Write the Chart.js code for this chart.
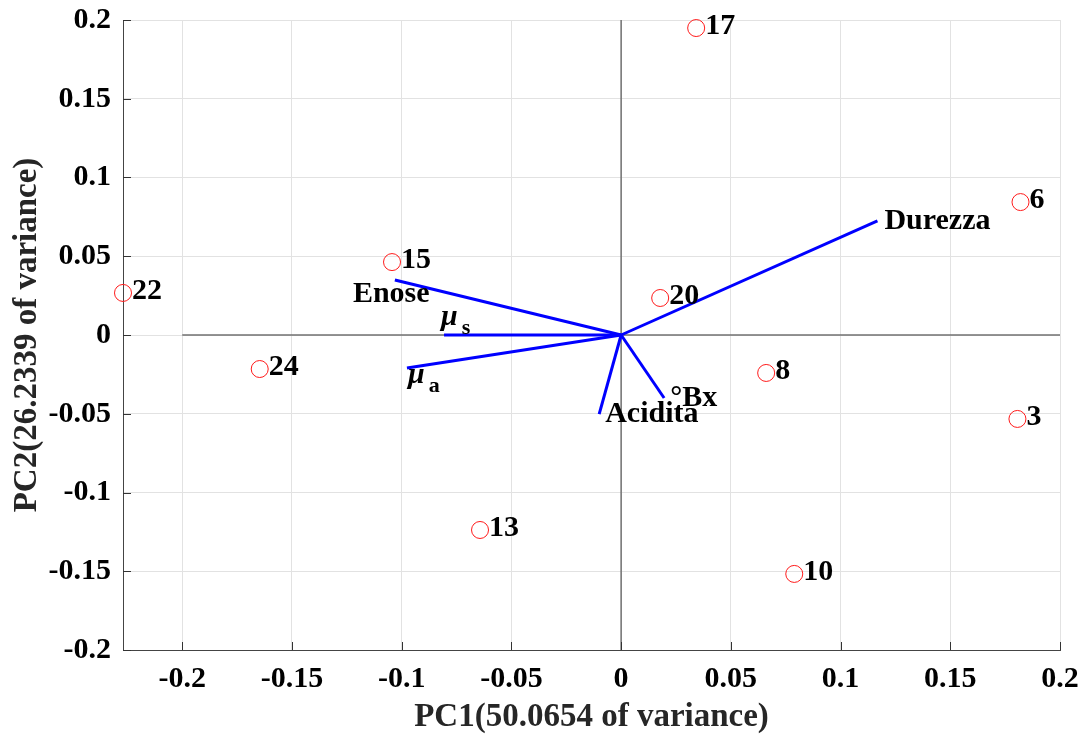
<!DOCTYPE html>
<html>
<head>
<meta charset="utf-8">
<script src="https://cdn.jsdelivr.net/npm/chart.js@4.4.1/dist/chart.umd.min.js"></script>
<style>
  html, body { margin: 0; padding: 0; background: #fff; }
  #wrap { width: 1082px; height: 734px; }
</style>
</head>
<body>
<div id="wrap"><canvas id="c"></canvas></div>
<script>
// observations (scores)
var obsLabels = ['17', '6', '15', '22', '20', '24', '8', '3', '13', '10'];
var obsPC1 = [0.0342, 0.182, -0.1044, -0.227, 0.0178, -0.1647, 0.0661, 0.1806, -0.0643, 0.0789];
var obsPC2 = [0.1949, 0.0844, 0.0463, 0.0267, 0.0235, -0.0216, -0.0241, -0.0533, -0.1238, -0.1517];

// variables (loadings)
var varNames = ['Durezza', 'Enose', 'μs', 'μa', 'Acidita', '°Bx'];
var varPC1 = [0.1168, -0.1031, -0.0807, -0.0976, -0.0100, 0.0196];
var varPC2 = [0.0724, 0.0349, 0, -0.0210, -0.0502, -0.0400];

var xTicks = [-0.2, -0.15, -0.1, -0.05, 0, 0.05, 0.1, 0.15, 0.2];
var yTicks = [-0.2, -0.15, -0.1, -0.05, 0, 0.05, 0.1, 0.15, 0.2];
var xMin = -0.227, xMax = 0.2, yMin = -0.2, yMax = 0.2;

var xTitle = 'PC1(50.0654 of variance)';
var yTitle = 'PC2(26.2339 of variance)';

// label placement for the variable names, in pixels from the arrow tip
var varLabelOffset = [[7, 0], [-42, 14], [-3, -10], [1, 15], [6, 0], [6, 0]];

var FONT = '"Liberation Serif", "Times New Roman", serif';

var datasets = [];
varNames.forEach(function (n, i) {
  datasets.push({
    label: n,
    data: [{ x: 0, y: 0 }, { x: varPC1[i], y: varPC2[i] }],
    showLine: true,
    borderColor: '#0000ff',
    borderWidth: 3,
    pointRadius: 0,
    order: 2
  });
});
datasets.push({
  label: 'zeroX',
  data: [{ x: xTicks[0], y: 0 }, { x: xTicks[xTicks.length - 1], y: 0 }],
  showLine: true, borderColor: '#707070', borderWidth: 1.5, pointRadius: 0, order: 3
});
datasets.push({
  label: 'zeroY',
  data: [{ x: 0, y: yMin }, { x: 0, y: yMax }],
  showLine: true, borderColor: '#707070', borderWidth: 1.5, pointRadius: 0, order: 3
});
datasets.push({
  label: 'obs',
  data: obsPC1.map(function (v, i) { return { x: v, y: obsPC2[i] }; }),
  pointRadius: 8.5,
  pointBorderColor: '#ff1a1a',
  pointBackgroundColor: 'rgba(0,0,0,0)',
  pointBorderWidth: 1,
  clip: false,
  order: 1
});

var textPlugin = {
  id: 'biplotText',
  afterDraw: function (chart) {
    var ctx = chart.ctx, xs = chart.scales.x, ys = chart.scales.y;
    var area = chart.chartArea;
    ctx.save();
    // inward tick marks
    ctx.strokeStyle = '#333';
    ctx.lineWidth = 1;
    ctx.beginPath();
    xTicks.forEach(function (v) {
      var px = Math.round(xs.getPixelForValue(v)) + 0.5;
      ctx.moveTo(px, area.bottom);
      ctx.lineTo(px, area.bottom - 8);
    });
    yTicks.forEach(function (v) {
      var py = Math.round(ys.getPixelForValue(v)) + 0.5;
      ctx.moveTo(area.left, py);
      ctx.lineTo(area.left + 8, py);
    });
    ctx.stroke();

    ctx.fillStyle = '#000';
    ctx.textBaseline = 'middle';
    ctx.textAlign = 'left';
    ctx.font = 'bold 30px ' + FONT;
    obsLabels.forEach(function (t, i) {
      var px = xs.getPixelForValue(obsPC1[i]);
      var py = ys.getPixelForValue(obsPC2[i]);
      ctx.fillText(t, px + 9, py - 2);
    });

    varNames.forEach(function (n, i) {
      var px = xs.getPixelForValue(varPC1[i]) + varLabelOffset[i][0];
      var py = ys.getPixelForValue(varPC2[i]) + varLabelOffset[i][1];
      if (n.charAt(0) === 'μ') {
        ctx.font = 'italic bold 30px ' + FONT;
        ctx.textBaseline = 'alphabetic';
        ctx.fillText('μ', px, py);
        var w = ctx.measureText('μ').width;
        ctx.font = 'bold 22px ' + FONT;
        ctx.fillText(n.slice(1), px + w + 4, py + 9);
        ctx.textBaseline = 'middle';
      } else {
        ctx.font = 'bold 30px ' + FONT;
        ctx.fillText(n, px, py);
      }
    });
    ctx.restore();
  }
};

function tickFmt(v) { return String(+v.toFixed(2)); }

new Chart(document.getElementById('c'), {
  type: 'scatter',
  data: { datasets: datasets },
  options: {
    responsive: true,
    maintainAspectRatio: false,
    animation: false,
    layout: { padding: { top: 20, right: 22, left: 0, bottom: 0 } },
    plugins: { legend: { display: false }, tooltip: { enabled: false } },
    scales: {
      x: {
        type: 'linear',
        min: xMin, max: xMax,
        afterBuildTicks: function (s) { s.ticks = xTicks.map(function (v) { return { value: v }; }); },
        afterFit: function (s) { s.height = 84; s.paddingLeft = 0; s.paddingRight = 0; },
        grid: { color: '#e2e2e2', drawTicks: false },
        border: { display: true, color: '#444', width: 1 },
        ticks: { callback: tickFmt, color: '#000', padding: 11, maxRotation: 0, font: { family: FONT, size: 30, weight: 'bold' } },
        title: { display: true, text: xTitle, color: '#262626', padding: { top: 0, bottom: 0 }, font: { family: FONT, size: 33, weight: 'bold', lineHeight: 1 } }
      },
      y: {
        type: 'linear',
        min: yMin, max: yMax,
        afterBuildTicks: function (s) { s.ticks = yTicks.map(function (v) { return { value: v }; }); },
        afterFit: function (s) { s.width = 123; s.paddingTop = 0; s.paddingBottom = 0; },
        grid: { color: '#e2e2e2', drawTicks: false },
        border: { display: true, color: '#444', width: 1 },
        ticks: { callback: tickFmt, color: '#000', padding: 12, font: { family: FONT, size: 30, weight: 'bold' } },
        title: { display: true, text: yTitle, color: '#262626', padding: { top: 11, bottom: 0 }, font: { family: FONT, size: 33, weight: 'bold', lineHeight: 1 } }
      }
    }
  },
  plugins: [textPlugin]
});
</script>
</body>
</html>
